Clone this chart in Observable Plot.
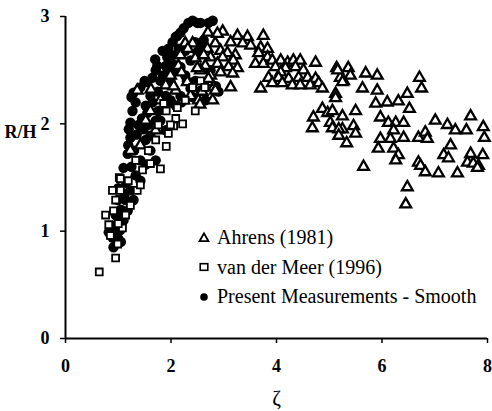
<!DOCTYPE html>
<html>
<head>
<meta charset="utf-8">
<script src="https://cdn.jsdelivr.net/npm/d3@7"></script>
<script src="https://cdn.jsdelivr.net/npm/@observablehq/plot@0.6"></script>
<style>
  body { margin: 0; background: #fff; }
  #wrap { position: relative; width: 492px; height: 411px; }
  #legend { position: absolute; left: 196px; top: 223px; font-family: "Liberation Serif", "Times New Roman", Times, serif; font-size: 20px; color: #000; line-height: 29.5px; }
  #legend div { display: flex; align-items: center; white-space: nowrap; }
  #legend svg { width: 16px; height: 16px; margin-right: 5px; }
  #wrap svg text { font-family: "Liberation Serif", "Times New Roman", Times, serif; }
</style>
</head>
<body>
<div id="wrap"></div>
<script>
// ---- Data (ζ, R/H) ----
const ahrensX = [5.36,5.40,5.69,5.91,5.27,5.63,5.91,6.71,6.75,6.48,5.88,6.10,6.31,6.52,5.50,5.25,5.97,6.12,6.26,6.41,5.46,5.25,5.50,6.22,5.97,6.16,6.41,5.33,5.93,6.22,6.31,6.26,5.65,6.69,6.82,6.86,7.01,7.24,7.39,7.60,7.68,7.92,7.94,7.30,7.17,7.26,7.68,7.62,7.73,7.83,7.91,7.81,6.69,6.73,6.82,7.07,7.43,6.48,6.45,
  2.98,3.26,3.45,3.75,3.13,3.36,3.51,2.84,2.69,2.94,3.07,3.22,3.70,3.83,3.66,3.83,3.60,3.75,3.92,4.08,4.21,4.32,4.45,4.74,5.14,3.98,4.17,4.36,4.51,4.08,3.85,4.04,4.23,4.42,4.59,4.74,3.92,4.11,4.30,4.45,4.64,4.80,4.87,3.70,5.21,5.12,5.12,5.16,5.25,4.70,4.87,4.97,5.06,4.68,5.02,5.06,5.18,5.18,
  2.75,2.98,3.18,2.65,2.88,3.09,3.26,2.94,3.17,2.75,2.81,3.13,2.79,2.69,
  2.27,2.41,2.88,2.84,2.71,2.31,2.56,2.46,2.14,1.99,2.37,2.52,2.24,2.09,1.90,1.80,1.61,1.36,1.52,1.71,1.42,1.23,2.62,2.18,
  2.32,2.59,2.50,2.05,1.62,2.20,2.55,2.70];
const ahrensY = [2.52,2.45,2.47,2.45,2.40,2.33,2.31,2.43,2.33,2.28,2.19,2.20,2.21,2.14,2.12,2.07,2.06,2.01,2.01,2.01,1.98,1.95,1.91,1.94,1.86,1.86,1.87,1.82,1.77,1.77,1.71,1.66,1.60,1.87,1.92,1.86,2.03,1.99,1.94,1.94,2.07,1.97,1.87,1.80,1.71,1.68,1.72,1.64,1.63,1.61,1.71,1.59,1.64,1.61,1.55,1.54,1.54,1.41,1.25,
  2.86,2.82,2.81,2.82,2.76,2.75,2.73,2.75,2.70,2.68,2.66,2.64,2.71,2.70,2.66,2.62,2.56,2.56,2.59,2.59,2.57,2.59,2.59,2.57,2.52,2.53,2.52,2.53,2.50,2.48,2.43,2.43,2.42,2.43,2.43,2.42,2.38,2.38,2.36,2.36,2.36,2.38,2.33,2.33,2.43,2.28,2.24,2.50,2.39,2.06,2.14,2.10,2.12,1.96,2.01,1.96,1.95,1.89,
  2.62,2.62,2.59,2.54,2.56,2.53,2.52,2.48,2.47,2.45,2.34,2.34,2.22,2.39,
  2.75,2.75,2.84,2.31,2.42,2.39,2.50,2.61,2.54,2.45,2.26,2.22,2.22,2.31,2.36,2.22,2.12,2.31,2.03,1.94,1.80,1.75,2.64,2.64,
  2.70,2.30,2.52,2.35,2.32,2.48,2.18,2.85];

const meerX = [0.64,0.95,0.99,0.82,1.08,0.91,0.95,1.04,1.02,1.36,1.80,1.91,1.95,2.22,1.61,1.46,1.00,1.04,1.57,2.05,2.12,1.86,2.09,1.99,1.91,2.56,2.41,2.64,1.23,1.14,0.85,1.19,1.33,1.71,1.76,2.27,2.46,0.76,0.89,1.42];
const meerY = [0.62,0.75,0.88,1.06,1.03,1.19,1.29,1.38,1.50,1.38,1.58,1.79,1.91,2.00,1.63,1.57,1.07,1.49,1.75,1.98,2.15,2.19,2.05,1.99,2.12,2.40,2.34,2.34,1.24,1.15,0.96,1.47,1.66,1.85,1.99,2.22,2.12,1.15,1.38,1.43];

const presentX = [2.33,2.41,2.56,2.71,2.79,2.24,2.12,2.03,1.84,1.93,1.71,1.65,1.42,1.29,1.33,1.27,1.23,2.46,2.60,2.18,2.41,2.37,2.12,1.99,1.23,1.18,1.10,1.00,0.99,1.10,1.00,0.91,0.82,0.89,1.04,1.14,1.33,1.42,1.52,1.57,1.61,1.80,1.90,2.03,2.27,1.76,1.52,1.38,1.19,1.61,1.71,1.42,1.23,1.18,2.18,2.56,1.90,2.09,2.37,1.71,1.52,1.29,1.04,0.91,
  2.50,2.18,2.09,1.95,1.74,1.55,2.62,2.50,2.75,2.27,2.46,2.65,1.99,1.80,1.61,1.90,1.05,1.15,1.25,1.30,1.35,1.45,1.55,1.65,1.75,1.85,1.95,2.05,2.15,1.48,1.12,0.95,1.05,0.97,1.20,1.25,1.50,1.70,2.30,2.20,2.00,2.85,2.90];
const presentY = [2.94,2.96,2.94,2.94,2.96,2.89,2.82,2.76,2.68,2.62,2.50,2.43,2.34,2.29,2.20,2.12,2.01,2.76,2.73,2.53,2.25,2.33,2.50,2.40,1.87,1.72,1.59,1.40,1.29,1.10,0.93,0.85,0.99,0.94,1.01,1.29,1.52,1.66,1.85,1.99,2.26,2.40,2.54,2.64,2.68,2.12,2.17,1.99,1.80,1.75,1.66,1.47,1.38,1.19,2.26,2.31,2.26,2.17,2.59,2.03,1.62,1.29,1.14,1.05,
  2.94,2.85,2.81,2.70,2.54,2.39,2.78,2.67,2.50,2.45,2.40,2.22,2.22,2.03,1.89,1.94,1.20,1.45,1.60,1.75,1.90,2.05,2.10,2.20,2.30,2.45,2.50,2.55,2.70,1.95,1.35,1.15,0.90,1.00,1.95,2.25,2.40,2.60,2.40,2.20,2.20,2.35,2.30];

const xTicks = [0, 2, 4, 6, 8];
const yTicks = [0, 1, 2, 3];
const seriesNames = ["Ahrens (1981)", "van der Meer (1996)", "Present Measurements - Smooth"];

const ahrens = ahrensX.map((x, i) => ({x, y: ahrensY[i]}));
const meer = meerX.map((x, i) => ({x, y: meerY[i]}));
const present = presentX.map((x, i) => ({x, y: presentY[i]}));

const chart = Plot.plot({
  width: 492,
  height: 411,
  marginLeft: 65,
  marginRight: 5,
  marginTop: 16,
  marginBottom: 73,
  style: { fontFamily: "'Liberation Serif', 'Times New Roman', serif", background: "#fff", color: "#000" },
  x: { domain: [0, 8] },
  y: { domain: [0, 3] },
  marks: [
    Plot.axisX({ ticks: xTicks, tickFormat: d3.format("d"), tickSize: 5, tickPadding: 16, label: null, fontSize: 18, fontWeight: "bold", strokeWidth: 1.5 }),
    Plot.axisY({ ticks: yTicks, tickFormat: d3.format("d"), tickSize: 5, tickPadding: 11, label: null, fontSize: 18, fontWeight: "bold", strokeWidth: 1.5 }),
    Plot.ruleX([0], { stroke: "#000", strokeWidth: 2 }),
    Plot.ruleY([0], { stroke: "#000", strokeWidth: 2 }),
    Plot.dot(present, { x: "x", y: "y", r: 5.2, fill: "#000", stroke: "none" }),
    Plot.dot(ahrens, { x: "x", y: "y", symbol: "triangle", r: 4.0, fill: "#fff", stroke: "#000", strokeWidth: 2.3 }),
    Plot.dot(meer, { x: "x", y: "y", symbol: "square", r: 3.9, fill: "#fff", stroke: "#000", strokeWidth: 1.8 }),
    Plot.text(["R/H"], { frameAnchor: "left", dx: -45, dy: -45, fontSize: 18, fontWeight: "bold", textAnchor: "middle" }),
    Plot.text(["ζ"], { frameAnchor: "bottom", dy: 66, fontSize: 21, textAnchor: "middle" })
  ]
});

const wrap = document.getElementById("wrap");
wrap.appendChild(chart);

const legend = document.createElement("div");
legend.id = "legend";
const symbols = [
  '<svg viewBox="-8 -8 16 16"><path d="M0,-4.6L4.5,3.2H-4.5Z" fill="#fff" stroke="#000" stroke-width="1.8"/></svg>',
  '<svg viewBox="-8 -8 16 16"><rect x="-3.8" y="-3.3" width="7.6" height="6.6" fill="#fff" stroke="#000" stroke-width="1.6"/></svg>',
  '<svg viewBox="-8 -8 16 16"><circle r="3.8" fill="#000"/></svg>'
];
seriesNames.forEach((name, i) => {
  const row = document.createElement("div");
  row.innerHTML = symbols[i] + "<span>" + name + "</span>";
  legend.appendChild(row);
});
wrap.appendChild(legend);
</script>
</body>
</html>
